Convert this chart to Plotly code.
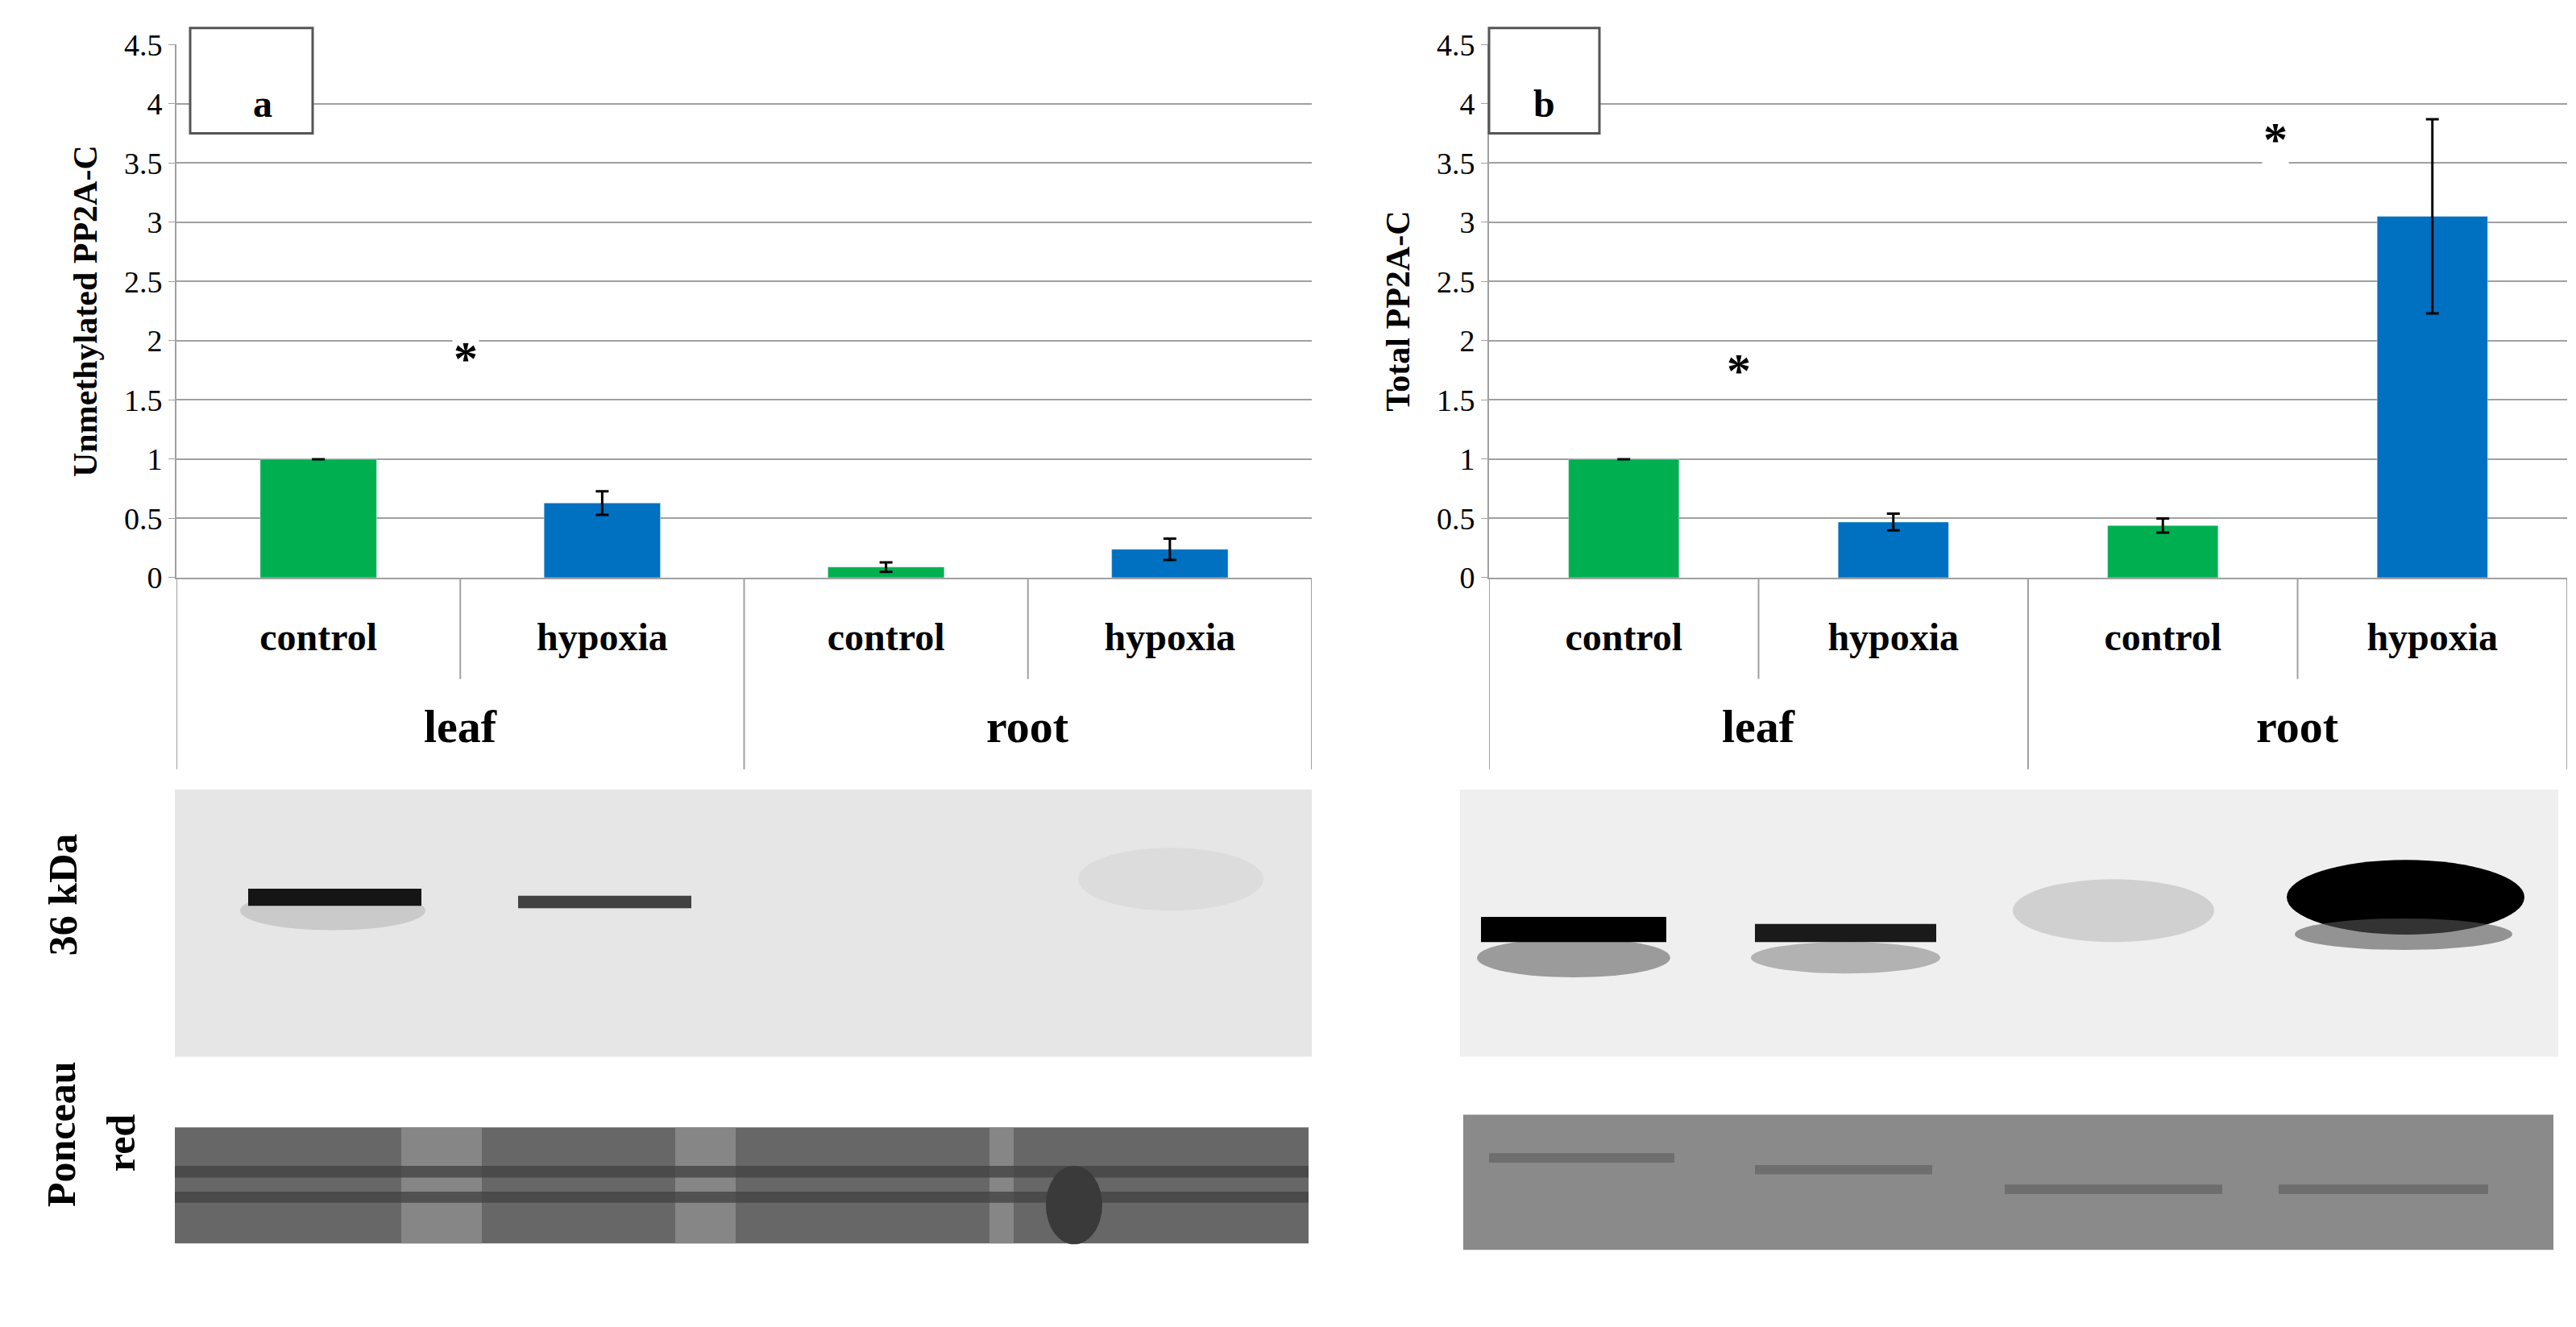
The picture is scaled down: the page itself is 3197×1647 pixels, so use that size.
import plotly.graph_objects as go

tissue_groups = ["leaf", "root"]
treatment = ["control", "hypoxia", "control", "hypoxia"]
xpos = [0, 1, 2, 3]
colors = ["#00b050", "#0070c0", "#00b050", "#0070c0"]
unmeth = [1.0, 0.63, 0.09, 0.24]
unmeth_err = [None, 0.10, 0.04, 0.09]
total = [1.0, 0.47, 0.44, 3.05]
total_err = [None, 0.07, 0.06, 0.82]
yticks = [0, 0.5, 1, 1.5, 2, 2.5, 3, 3.5, 4, 4.5]

W, H = 3197, 1647
fig = go.Figure()
for vals, errs, ax in [(unmeth, unmeth_err, ""), (total, total_err, "2")]:
    fig.add_trace(go.Bar(x=xpos, y=vals, marker_color=colors, width=0.41,
                         error_y=dict(type="data", array=errs, color="black", thickness=3, width=8),
                         xaxis="x" + ax, yaxis="y" + ax, showlegend=False))

def px(x): return x / W
def py(y): return 1 - y / H

ydom = [py(706), py(27)]
axfont = dict(family="Liberation Serif", size=38, color="black")
common_y = dict(range=[0, 4.5], tickvals=yticks, ticktext=[str(t) for t in yticks], tickfont=axfont,
                showgrid=True, gridcolor="#a0a0a0", gridwidth=2, zeroline=False,
                showline=True, linecolor="#a0a0a0", linewidth=2, ticks="outside", ticklen=8,
                tickcolor="#a0a0a0", domain=ydom)
common_x = dict(range=[-0.5, 3.5], tickvals=xpos, ticktext=["<b>%s</b>" % t for t in treatment],
                tickfont=dict(family="Liberation Serif", size=48, color="black"), ticklabelstandoff=30,
                showline=True, linecolor="#a0a0a0", linewidth=2, showgrid=False, zeroline=False)
tfont = dict(family="Liberation Serif", size=42, color="black")
fig.update_layout(
    width=W, height=H, margin=dict(l=0, r=0, t=0, b=0),
    plot_bgcolor="white", paper_bgcolor="white",
    xaxis=dict(domain=[px(211), px(1620)], anchor="y", **common_x),
    xaxis2=dict(domain=[px(1840), px(3178)], anchor="y2", **common_x),
    yaxis=dict(anchor="x", title=dict(text="<b>Unmethylated PP2A-C</b>", font=tfont, standoff=20), **common_y),
    yaxis2=dict(anchor="x2", title=dict(text="<b>Total PP2A-C</b>", font=tfont, standoff=20), **common_y),
)

shapes, ann = [], []
ybot = py(706)
for xr in ["x", "x2"]:
    for xv, low in [(-0.5, 950), (0.5, 835), (1.5, 950), (2.5, 835), (3.5, 950)]:
        shapes.append(dict(type="line", xref=xr, yref="paper", x0=xv, x1=xv, y0=ybot, y1=py(low),
                           line=dict(color="#a0a0a0", width=2)))
    for xv, g in zip([0.5, 2.5], tissue_groups):
        ann.append(dict(xref=xr, yref="paper", x=xv, y=py(895), text="<b>%s</b>" % g, showarrow=False,
                        font=dict(family="Liberation Serif", size=58, color="black")))
# panel labels
for x0, x1, lab in [(228, 380, "a"), (1840, 1977, "b")]:
    shapes.append(dict(type="rect", xref="paper", yref="paper", x0=px(x0), x1=px(x1), y0=py(140), y1=py(6),
                       line=dict(color="#555", width=3), fillcolor="white", layer="above"))
    ann.append(dict(xref="paper", yref="paper", x=px((x0 + x1) / 2), y=py(73), text="<b>" + lab + "</b>",
                    showarrow=False, font=dict(family="Liberation Serif", size=48, color="black")))
# asterisks
for yr, xpix, yv in [("y", 553, 1.85), ("y2", 2167, 1.75), ("y2", 2833, 3.7)]:
    ann.append(dict(xref="paper", yref=yr, x=px(xpix), y=yv, text="<b>*</b>", showarrow=False, bgcolor="white",
                    font=dict(family="Liberation Serif", size=60, color="black")))

def rect(x0, x1, y0, y1, color, op=1.0):
    shapes.append(dict(type="rect", xref="paper", yref="paper", x0=px(x0), x1=px(x1), y0=py(y1), y1=py(y0),
                       line=dict(width=0), fillcolor=color, opacity=op, layer="above"))

def band(x0, x1, yc, h, color, op=1.0):
    shapes.append(dict(type="circle", xref="paper", yref="paper", x0=px(x0), x1=px(x1), y0=py(yc + h / 2),
                       y1=py(yc - h / 2), line=dict(width=0), fillcolor=color, opacity=op, layer="above"))

# blot a
rect(209, 1620, 976, 1316, "#e6e6e6")
band(290, 520, 1130, 50, "#bdbdbd", 0.7)
rect(300, 515, 1102, 1124, "#151515")
rect(635, 850, 1111, 1127, "#303030", 0.9)
band(1330, 1560, 1090, 80, "#dadada", 0.8)
# ponceau a
rect(209, 1616, 1406, 1554, "#676767")
for x0, x1 in [(490, 590), (830, 905), (1220, 1250)]:
    rect(x0, x1, 1406, 1554, "#8e8e8e", 0.8)
rect(209, 1616, 1455, 1470, "#444", 0.8)
rect(209, 1616, 1488, 1502, "#444", 0.8)
band(1290, 1360, 1505, 100, "#3a3a3a")
# blot b
rect(1804, 3167, 976, 1316, "#efefef")
band(1825, 2065, 1190, 50, "#777", 0.7)
rect(1830, 2060, 1138, 1170, "#000")
band(2165, 2400, 1190, 40, "#888", 0.6)
rect(2170, 2395, 1147, 1170, "#1a1a1a")
band(2490, 2740, 1130, 80, "#c8c8c8", 0.8)
band(2830, 3125, 1113, 95, "#000")
band(2840, 3110, 1160, 40, "#555", 0.6)
# ponceau b
rect(1808, 3161, 1390, 1562, "#8a8a8a")
for x0, x1, yc in [(1840, 2070, 1445), (2170, 2390, 1460), (2480, 2750, 1485), (2820, 3080, 1485)]:
    rect(x0, x1, yc - 6, yc + 6, "#666", 0.8)

ann.append(dict(xref="paper", yref="paper", x=px(40), y=py(1190), text="<b>36 kDa</b>", textangle=-90,
                showarrow=False, font=dict(family="Liberation Serif", size=50, color="black")))
ann.append(dict(xref="paper", yref="paper", x=px(38), y=py(1510), text="<b>Ponceau</b>", textangle=-90,
                showarrow=False, font=dict(family="Liberation Serif", size=50, color="black")))
ann.append(dict(xref="paper", yref="paper", x=px(112), y=py(1465), text="<b>red</b>", textangle=-90,
                showarrow=False, font=dict(family="Liberation Serif", size=50, color="black")))
fig.update_layout(shapes=shapes, annotations=ann)
fig.write_html("out.html")
